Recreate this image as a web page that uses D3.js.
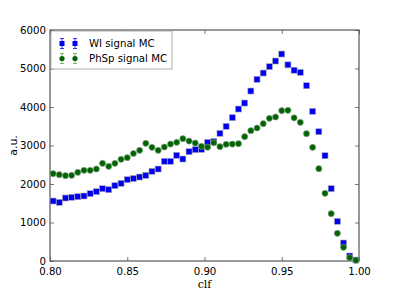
<!DOCTYPE html>
<html><head><meta charset="utf-8">
<script src="https://cdn.jsdelivr.net/npm/d3@7"></script>
<style>body{margin:0;background:#fff}svg{display:block}</style>
</head><body>
<script>
const binCenters = [0.802,0.806,0.810,0.814,0.818,0.822,0.826,0.830,0.834,0.838,0.842,0.846,0.850,0.854,0.858,0.862,0.866,0.870,0.874,0.878,0.882,0.886,0.890,0.894,0.898,0.902,0.906,0.910,0.914,0.918,0.922,0.926,0.930,0.934,0.938,0.942,0.946,0.950,0.954,0.958,0.962,0.966,0.970,0.974,0.978,0.982,0.986,0.990,0.994,0.998];
const wiValues = [1558,1524,1636,1654,1671,1688,1749,1800,1878,1852,1956,2017,2112,2142,2181,2225,2329,2389,2589,2589,2744,2649,2839,2891,2900,3082,3104,3316,3498,3723,3947,4103,4415,4718,4882,5047,5194,5376,5095,4955,4899,4553,3888,3358,2735,1878,1030,467,130,26];
const phspValues = [2268,2242,2216,2225,2303,2355,2355,2389,2536,2458,2536,2641,2684,2792,2874,3056,2952,2874,2961,3038,3082,3177,3116,3064,2978,2956,3073,2969,3030,3038,3047,3229,3385,3454,3566,3705,3740,3904,3913,3718,3601,3307,2952,2397,1758,1229,719,355,86,18];
const xTicks = [0.80,0.85,0.90,0.95,1.00];
const yTicks = [0,1000,2000,3000,4000,5000,6000];
const seriesNames = ["WI signal MC","PhSp signal MC"];

const W=399,H=299, m={l:50,r:40,t:30,b:38};
const svg=d3.select("body").append("svg").attr("width",W).attr("height",H);
const x=d3.scaleLinear().domain([0.8,1.0]).range([m.l,W-m.r]);
const y=d3.scaleLinear().domain([0,6000]).range([H-m.b,m.t]);
const font="DejaVu Sans, sans-serif";

// axes
const gx=svg.append("g").attr("transform",`translate(0,${H-m.b})`)
  .call(d3.axisBottom(x).tickValues(xTicks).tickFormat(d3.format(".2f")).tickSizeInner(-4).tickSizeOuter(0).tickPadding(7));
const gy=svg.append("g").attr("transform",`translate(${m.l},0)`)
  .call(d3.axisLeft(y).tickValues(yTicks).tickFormat(d3.format("d")).tickSizeInner(-4).tickSizeOuter(0).tickPadding(4));
const gt=svg.append("g").attr("transform",`translate(0,${m.t})`)
  .call(d3.axisTop(x).tickValues(xTicks).tickFormat("").tickSizeInner(-4).tickSizeOuter(0));
const gr=svg.append("g").attr("transform",`translate(${W-m.r},0)`)
  .call(d3.axisRight(y).tickValues(yTicks).tickFormat("").tickSizeInner(-4).tickSizeOuter(0));
[gx,gy,gt,gr].forEach(g=>{
  g.selectAll(".domain").remove();
  g.selectAll(".tick line").attr("stroke","#555").attr("stroke-width",0.8);
  g.selectAll("text").attr("font-family",font).attr("font-size",10.2).attr("fill","#000");
});
svg.append("rect").attr("x",m.l).attr("y",m.t).attr("width",W-m.l-m.r).attr("height",H-m.t-m.b)
  .attr("fill","none").attr("stroke","#555").attr("stroke-width",1.2);

// axis labels
svg.append("text").attr("x",(m.l+W-m.r)/2).attr("y",288).attr("text-anchor","middle")
  .attr("font-family","DejaVu Serif, serif").attr("font-size",11).text("clf");
svg.append("text").attr("transform",`translate(17,${(m.t+H-m.b)/2}) rotate(-90)`).attr("text-anchor","middle")
  .attr("font-family",font).attr("font-size",11).text("a.u.");

// data
const ms=6;
svg.append("g").selectAll("rect").data(binCenters).join("rect")
  .attr("x",(d)=>x(d)-ms/2).attr("y",(d,i)=>y(wiValues[i])-ms/2).attr("width",ms).attr("height",ms)
  .attr("fill","#0000ee").attr("stroke","#aab").attr("stroke-width",0.6);
svg.append("g").selectAll("circle").data(binCenters).join("circle")
  .attr("cx",(d)=>x(d)).attr("cy",(d,i)=>y(phspValues[i])).attr("r",3.1)
  .attr("fill","#006400").attr("stroke","#9a9").attr("stroke-width",0.6);

// legend
const lg=svg.append("g");
lg.append("rect").attr("x",51).attr("y",31).attr("width",121).attr("height",38)
  .attr("fill","#fff").attr("stroke","#999").attr("stroke-width",0.8);
const rows=[{y:43.5,c:"#0000ee",ec:"#33f",shape:"sq"},{y:58.5,c:"#006400",ec:"#7b7",shape:"ci"}];
rows.forEach((r,k)=>{
  [62,75].forEach(px=>{
    lg.append("line").attr("x1",px).attr("x2",px).attr("y1",r.y-5).attr("y2",r.y+5).attr("stroke",r.ec).attr("stroke-width",1);
    lg.append("line").attr("x1",px-2).attr("x2",px+2).attr("y1",r.y-5).attr("y2",r.y-5).attr("stroke",r.ec).attr("stroke-width",1);
    lg.append("line").attr("x1",px-2).attr("x2",px+2).attr("y1",r.y+5).attr("y2",r.y+5).attr("stroke",r.ec).attr("stroke-width",1);
    if(r.shape==="sq") lg.append("rect").attr("x",px-2.5).attr("y",r.y-2.5).attr("width",5).attr("height",5).attr("fill",r.c);
    else lg.append("circle").attr("cx",px).attr("cy",r.y).attr("r",2.6).attr("fill",r.c);
  });
  lg.append("text").attr("x",89).attr("y",r.y+3.6).attr("font-family",font).attr("font-size",10.2).text(seriesNames[k]);
});
</script>
</body></html>
